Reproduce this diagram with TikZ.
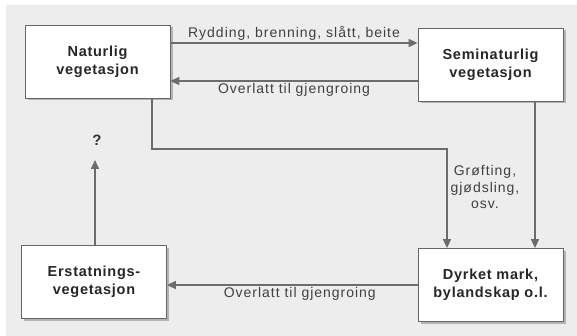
\documentclass[tikz,border=0pt]{standalone}
\usepackage{fontspec}
\setmainfont{Liberation Sans}
\newfontfamily\bokstekst[LetterSpace=5]{Liberation Sans}
\newfontfamily\etikett[LetterSpace=7]{Liberation Sans}
\usetikzlibrary{arrows.meta,shadows}
\begin{document}
\begin{tikzpicture}[x=1pt,y=-1pt]
\tikzstyle{boks}=[draw=gray!80!black,line width=0.8pt,fill=white,
minimum width=145pt,minimum height=73pt,align=center,inner sep=0pt,
font=\bokstekst\bfseries\fontsize{14.5}{18}\selectfont,text=black!85,
drop shadow={shadow xshift=2.5pt,shadow yshift=-2.5pt,fill=gray!70,opacity=0.8}]
\tikzstyle{pil}=[draw=gray!85!black,line width=1.6pt,
-{Triangle[length=9pt,width=8pt]}]
\tikzstyle{tekst}=[font=\etikett\fontsize{14}{16.5}\selectfont,text=black!75,inner sep=1pt]

% bakgrunn
\useasboundingbox (0,0) rectangle (577,336);
\fill[white] (0,0) rectangle (577,336);
\fill[gray!14] (6,5) rectangle (577,336);

\draw (97.5,61.5)  node (nat) [boks] {Naturlig\\vegetasjon};
\draw (490.5,64.5) node (semi) [boks] {Seminaturlig\\vegetasjon};
\draw (94,282)     node (ers) [boks] {Erstatnings-\\vegetasjon};
\draw (490.5,285)  node (dyr) [boks] {Dyrket mark,\\bylandskap o.l.};

\coordinate (hjorne1) at (152,149);
\coordinate (hjorne2) at (447,149);
\coordinate (sporsmal) at (95,160);

\draw [pil] ([yshift=18.5pt]nat.east) -- ([yshift=18.5pt]nat.east -| semi.west)
  node [tekst,midway,above=1pt] {Rydding, brenning, slått, beite};
\draw [pil] ([yshift=-16.5pt]semi.west) -- ([yshift=-16.5pt]semi.west -| nat.east)
  node [tekst,midway,below=1pt] {Overlatt til gjengroing};
\draw [pil] (nat.south -| hjorne1) -- (hjorne1) -- (hjorne2) -- (hjorne2 |- dyr.north);
\draw [pil] ([xshift=44.5pt]semi.south) -- ([xshift=44.5pt]dyr.north);
\draw [pil] (dyr.west) -- (dyr.west -| ers.east)
  node [tekst,pos=0.47,below=1pt] {Overlatt til gjengroing};
\draw [pil] (ers.north -| sporsmal) -- (sporsmal);

\draw (97,140) node (spm) [font=\bfseries\fontsize{15}{18}\selectfont,text=black!80] {?};
\draw (485,187) node (grof) [tekst,align=center] {Grøfting,\\gjødsling,\\osv.};
\end{tikzpicture}
\end{document}
